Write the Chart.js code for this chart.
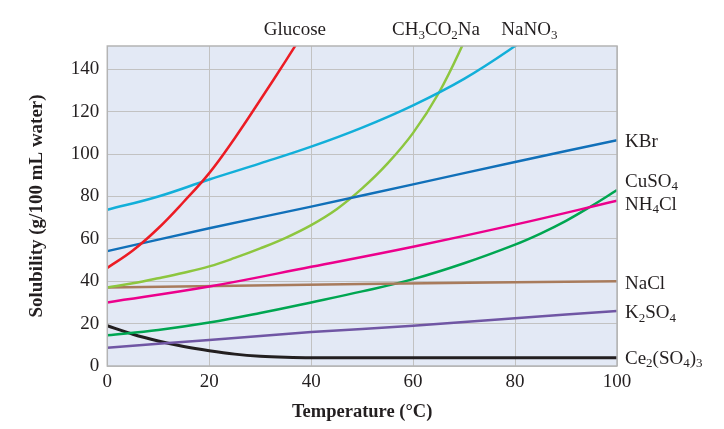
<!DOCTYPE html>
<html>
<head>
<meta charset="utf-8">
<script src="https://cdn.jsdelivr.net/npm/chart.js@4/dist/chart.umd.min.js"></script>
<style>
html,body{margin:0;padding:0;background:#fff;}
#wrap{width:724px;height:429px;position:relative;}
</style>
</head>
<body>
<div id="wrap"><canvas id="c" width="724" height="429"></canvas></div>
<script>
// ---- data (temperature °C, solubility g/100 mL water) ----
const xTicks = [0, 20, 40, 60, 80, 100];
const yTicks = [0, 20, 40, 60, 80, 100, 120, 140];
const glucose  = [[0,46.3],[5,54.5],[10,65],[15,77.5],[20,91],[25,107.5],[30,125.5],[35,144],[40,163]];
const nano3    = [[0,73.7],[10,80],[20,88],[30,95.6],[40,103.5],[50,112.5],[60,123],[70,135.5],[80,151],[85,160]];
const kbr      = [[0,54.2],[20,65],[40,75.2],[60,85.7],[80,96.3],[100,106.5]];
const ch3co2na = [[0,37],[5,39],[10,41.4],[15,44],[20,47],[25,51],[30,55.5],[35,60.5],[40,66.5],[45,74],[50,83.8],[55,95.6],[60,110],[65,128.7],[70,153],[75,180]];
const nh4cl    = [[0,30],[20,37.5],[40,46.8],[60,56.3],[80,66.7],[100,78]];
const nacl     = [[0,37],[50,38.7],[100,40]];
const cuso4    = [[0,14.5],[10,17],[20,20.5],[30,25],[40,30],[50,35.2],[60,41],[70,48.5],[80,57.3],[85,62.5],[90,68.5],[95,75.5],[100,83]];
const k2so4    = [[0,8.6],[20,12.3],[40,16],[60,19],[80,22.5],[100,26]];
const ce2so43  = [[0,19],[5,15],[10,11.8],[15,9.2],[20,7.2],[25,5.6],[30,4.6],[35,4.1],[40,3.9],[100,3.9]];
const seriesNames = ['Glucose','NaNO_3','KBr','CH_3CO_2Na','NH_4Cl','NaCl','CuSO_4','K_2SO_4','Ce_2(SO_4)_3'];
// labels at right edge: value on the y axis where each name sits
const rightLabels = [['KBr',106.3],['CuSO_4',87.7],['NH_4Cl',76.7],['NaCl',39.3],['K_2SO_4',25.6],['Ce_2(SO_4)_3',4.1]];
// labels above the plot: temperature where each name is centred
const topLabels = [['Glucose',36.8],['CH_3CO_2Na',64.5],['NaNO_3',82.8]];

const colors = {
  'Glucose':'#ec1c24','NaNO_3':'#12afd9','KBr':'#1170b9','CH_3CO_2Na':'#8dc63f',
  'NH_4Cl':'#ec008c','NaCl':'#a87b5c','CuSO_4':'#00a651','K_2SO_4':'#7056a4','Ce_2(SO_4)_3':'#231f20'
};
const seriesData = [glucose,nano3,kbr,ch3co2na,nh4cl,nacl,cuso4,k2so4,ce2so43];

const FONT = '"Liberation Serif", "Times New Roman", serif';
const TXT = '#231f20';

function drawRich(ctx, text, x, baseline, align, size) {
  const parts = text.split(/(_\d)/).filter(s => s.length);
  const subSize = Math.round(size * 0.66);
  const segs = parts.map(p => p[0] === '_' ? {t:p.slice(1), sub:true} : {t:p, sub:false});
  let w = 0;
  segs.forEach(s => { ctx.font = (s.sub ? subSize : size) + 'px ' + FONT; s.w = ctx.measureText(s.t).width; w += s.w; });
  let cx = align === 'center' ? x - w/2 : (align === 'right' ? x - w : x);
  ctx.textAlign = 'left'; ctx.textBaseline = 'alphabetic'; ctx.fillStyle = TXT;
  segs.forEach(s => {
    ctx.font = (s.sub ? subSize : size) + 'px ' + FONT;
    ctx.fillText(s.t, cx, baseline + (s.sub ? 3.5 : 0));
    cx += s.w;
  });
}

const plotDeco = {
  id: 'plotDeco',
  beforeDraw(chart) {
    const {ctx, chartArea:a} = chart;
    ctx.save();
    ctx.fillStyle = '#e3e9f5';
    ctx.fillRect(a.left, a.top, a.right - a.left, a.bottom - a.top);
    ctx.restore();
  },
  afterDatasetsDraw(chart) {
    const {ctx, chartArea:a} = chart;
    ctx.save();
    ctx.strokeStyle = '#b4b4b4';
    ctx.lineWidth = 1.5;
    ctx.strokeRect(a.left, a.top, a.right - a.left, a.bottom - a.top);
    ctx.restore();
  },
  afterDraw(chart) {
    const {ctx, chartArea:a, scales} = chart;
    ctx.save();
    rightLabels.forEach(([name, v]) => {
      const y = scales.y.getPixelForValue(v);
      drawRich(ctx, name, a.right + 8, y + 6.5, 'left', 19);
    });
    topLabels.forEach(([name, t]) => {
      const x = scales.x.getPixelForValue(t);
      drawRich(ctx, name, x, a.top - 11, 'center', 19);
    });
    ctx.restore();
  }
};

new Chart(document.getElementById('c'), {
  type: 'line',
  data: {
    datasets: seriesData.map((d, i) => {
      const name = seriesNames[i];
      return {
        label: name,
        data: d.map(([x, y]) => ({x, y})),
        borderColor: colors[name],
        borderWidth: name === 'Ce_2(SO_4)_3' ? 3 : 2.5,
        pointRadius: 0,
        fill: false,
        tension: 0.4,
        cubicInterpolationMode: name === 'Ce_2(SO_4)_3' ? 'monotone' : 'default',
        clip: 0
      };
    })
  },
  options: {
    responsive: false,
    animation: false,
    devicePixelRatio: 1,
    layout: { padding: { left: 0, right: 107, top: 46, bottom: 0 } },
    plugins: { legend: { display: false }, tooltip: { enabled: false } },
    scales: {
      x: {
        type: 'linear', min: 0, max: 100,
        afterBuildTicks: s => { s.ticks = xTicks.map(v => ({value: v})); },
        afterFit: s => { s.height = 63; },
        grid: { color: '#c2c2c2', lineWidth: 1, drawTicks: false },
        border: { display: false },
        ticks: { padding: 5, color: TXT, font: { family: FONT, size: 19 }, maxRotation: 0 },
        title: { display: true, text: 'Temperature (°C)', color: TXT,
                 font: { family: FONT, size: 18.5, weight: 'bold' }, padding: { top: 0, bottom: 6 } }
      },
      y: {
        type: 'linear', min: 0, max: 151,
        afterBuildTicks: s => { s.ticks = yTicks.map(v => ({value: v})); },
        afterFit: s => { s.width = 107.3; },
        grid: { color: '#c2c2c2', lineWidth: 1, drawTicks: false },
        border: { display: false },
        ticks: { padding: 8, color: TXT, font: { family: FONT, size: 19 } },
        title: { display: true, text: 'Solubility (g/100 mL water)', color: TXT,
                 font: { family: FONT, size: 19, weight: 'bold' }, padding: { top: 26, bottom: 0 } }
      }
    }
  },
  plugins: [plotDeco]
});
</script>
</body>
</html>
